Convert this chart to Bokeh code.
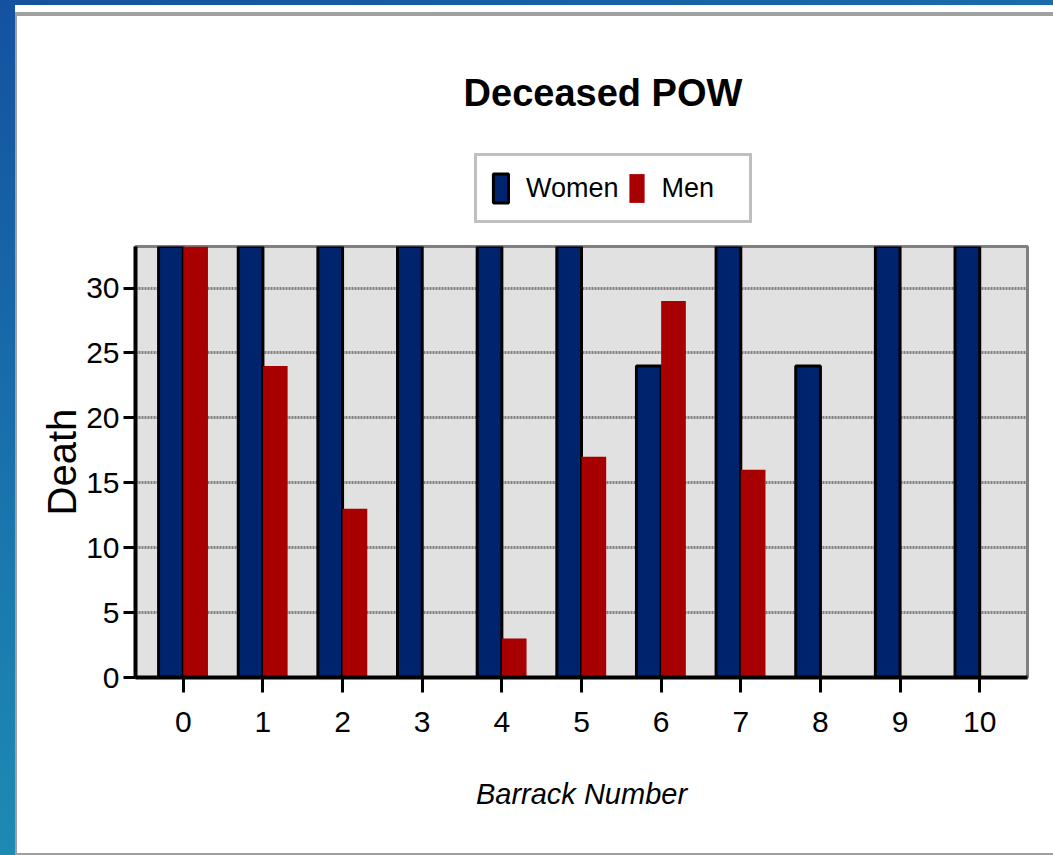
from bokeh.plotting import figure
from bokeh.layouts import column
from bokeh.models import (ColumnDataSource, FixedTicker, Range1d, Label, Legend,
                          LegendItem, GlobalInlineStyleSheet)
from bokeh.transform import dodge
from bokeh.embed import file_html
from bokeh.resources import INLINE

# ---- data (bars above the axis top are clipped) ----
barracks = [0, 1, 2, 3, 4, 5, 6, 7, 8, 9, 10]
women = [40, 40, 40, 40, 40, 40, 24, 40, 24, 40, 40]
men = [40, 24, 13, 0, 3, 17, 29, 16, 0, 0, 0]
y_ticks = [0, 5, 10, 15, 20, 25, 30]

title_text = "Deceased POW"
x_label = "Barrack Number"
y_label = "Death"
series_names = ["Women", "Men"]

SANS = "'Liberation Sans', Arial, sans-serif"

WOMEN_COLOR = "#00236e"
MEN_COLOR = "#a80000"

src = ColumnDataSource(dict(barrack=barracks, women=women, men=men))

page_css = GlobalInlineStyleSheet(css="""
html, body { margin: 0; padding: 0; overflow: hidden; }
html {
  background:
    linear-gradient(#a0a0a0, #a0a0a0) 15px 12px / 2000px 4px no-repeat,
    linear-gradient(#a0a0a0, #a0a0a0) 15px 12px / 2px 2000px no-repeat,
    linear-gradient(#a0a0a0, #a0a0a0) 15px 853px / 2000px 2px no-repeat,
    linear-gradient(#ffffff, #ffffff) 15px 5px / 2000px 2000px no-repeat,
    linear-gradient(160deg, #1452a0 0%, #1a78ae 45%, #22a2b8 100%);
}
body { background: transparent; }
""")

HEAD_H = 236
LEFT, RIGHT = 135, 26

# ---------------- header: title + legend ----------------
head = figure(width=1053, height=HEAD_H, output_backend="svg",
              toolbar_location=None, title=None,
              x_range=Range1d(LEFT, 1053 - RIGHT), y_range=Range1d(HEAD_H, 0),
              x_axis_type=None, y_axis_type=None,
              min_border_left=LEFT, min_border_right=RIGHT,
              min_border_top=0, min_border_bottom=0)
head.border_fill_color = None
head.background_fill_color = None
head.outline_line_color = None
head.xgrid.visible = False
head.ygrid.visible = False

head.add_layout(Label(x=602.5, y=92, text=title_text, text_align="center",
                      text_baseline="alphabetic", text_font=SANS,
                      text_font_style="bold", text_font_size="38px",
                      text_color="black"))

# legend keys: same series and styles, hidden in the header itself
w_key = head.vbar(x="barrack", top="women", width=0.31, source=src,
                  fill_color=WOMEN_COLOR, line_color="black", line_width=3,
                  visible=False)
m_key = head.vbar(x="barrack", top="men", width=0.31, source=src,
                  fill_color=MEN_COLOR, line_color=None, visible=False)

legend = Legend(items=[LegendItem(label=series_names[0], renderers=[w_key], index=0),
                       LegendItem(label=series_names[1], renderers=[m_key], index=0)],
                orientation="horizontal", location=(339, HEAD_H - 223),
                margin=0, padding=14, spacing=8, glyph_width=19,
                glyph_height=36, label_standoff=16, label_width=73,
                label_text_font=SANS, label_text_font_size="27px",
                label_text_color="black", border_line_color="#808080",
                border_line_width=3, background_fill_color="white",
                background_fill_alpha=1.0, click_policy="none")
head.add_layout(legend, "center")

# ---------------- chart ----------------
p = figure(width=1053, height=855 - HEAD_H, output_backend="svg",
           toolbar_location=None, title=None,
           x_range=Range1d(-0.6, 10.6), y_range=Range1d(0, 33.2),
           min_border_left=LEFT, min_border_right=RIGHT,
           min_border_top=246 - HEAD_H, min_border_bottom=178)
p.border_fill_color = None
p.background_fill_color = "#e1e1e1"
p.outline_line_color = "#808080"
p.outline_line_width = 3

w = p.vbar(x=dodge("barrack", -0.155, range=p.x_range), top="women", bottom=0,
           width=0.31, source=src, fill_color=WOMEN_COLOR, line_color="black",
           line_width=3)
m = p.vbar(x=dodge("barrack", 0.155, range=p.x_range), top="men", bottom=0,
           width=0.31, source=src, fill_color=MEN_COLOR, line_color=None)

p.xgrid.visible = False
p.ygrid.grid_line_color = "#808080"
p.ygrid.grid_line_width = 3
p.ygrid.grid_line_dash = "2 1"

for ax in (p.xaxis[0], p.yaxis[0]):
    ax.axis_line_color = "black"
    ax.axis_line_width = 4
    ax.major_tick_line_color = "black"
    ax.major_tick_line_width = 3
    ax.major_tick_in = 0
    ax.minor_tick_line_color = None
    ax.major_label_text_font = SANS
    ax.major_label_text_font_size = "30px"
    ax.major_label_text_color = "black"

p.xaxis.ticker = FixedTicker(ticks=barracks)
p.xaxis.major_tick_out = 15
p.xaxis.major_label_standoff = 19
p.xaxis.axis_label = x_label
p.xaxis.axis_label_text_font = SANS
p.xaxis.axis_label_text_font_style = "italic"
p.xaxis.axis_label_text_font_size = "29px"
p.xaxis.axis_label_text_color = "black"
p.xaxis.axis_label_standoff = 43

p.yaxis.ticker = FixedTicker(ticks=y_ticks)
p.yaxis.major_tick_out = 12
p.yaxis.major_label_standoff = 4
p.yaxis.axis_label = y_label
p.yaxis.axis_label_text_font = SANS
p.yaxis.axis_label_text_font_style = "normal"
p.yaxis.axis_label_text_font_size = "40px"
p.yaxis.axis_label_text_color = "black"
p.yaxis.axis_label_standoff = -1

page = column(head, p, spacing=0)
page.stylesheets = [page_css]

open("out.html", "w").write(file_html(page, INLINE))
